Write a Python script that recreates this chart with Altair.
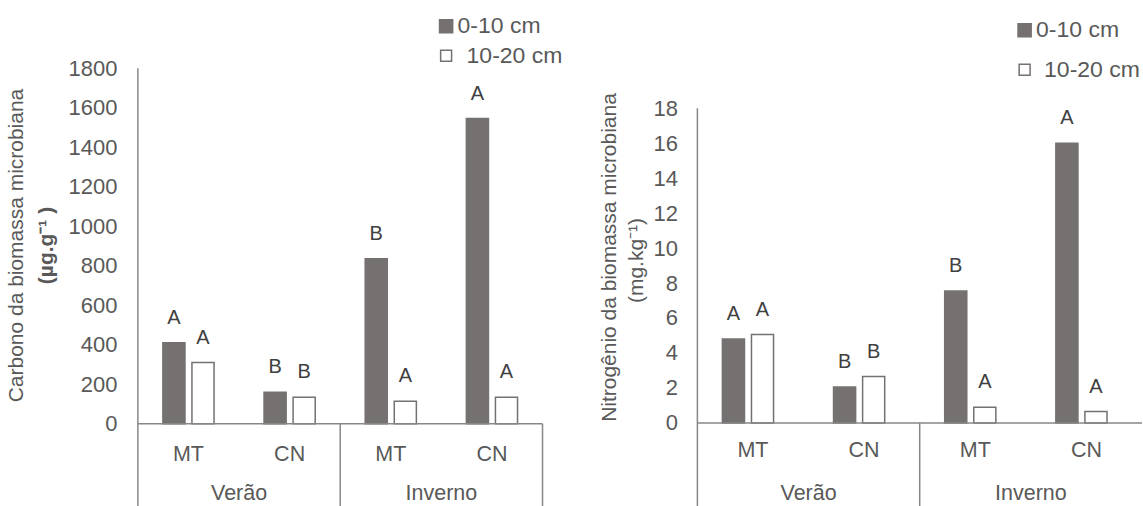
import altair as alt
import pandas as pd

# ---------------- data ----------------
seasons = ["Verão", "Verão", "Inverno", "Inverno"]
systems = ["MT", "CN", "MT", "CN"]
depths = ["0-10 cm", "10-20 cm"]

carbon_0_10 = [410, 160, 835, 1545]
carbon_10_20 = [310, 135, 115, 135]
carbon_letters_0_10 = ["A", "B", "B", "A"]
carbon_letters_10_20 = ["A", "B", "A", "A"]
carbon_ticks = [0, 200, 400, 600, 800, 1000, 1200, 1400, 1600, 1800]

nitrogen_0_10 = [4.8, 2.05, 7.55, 16.0]
nitrogen_10_20 = [5.05, 2.65, 0.9, 0.65]
nitrogen_letters_0_10 = ["A", "B", "B", "A"]
nitrogen_letters_10_20 = ["A", "B", "A", "A"]
nitrogen_ticks = [0, 2, 4, 6, 8, 10, 12, 14, 16, 18]

carbon_title = ["Carbono da biomassa microbiana", "(µg.g⁻¹ )"]
nitrogen_title = ["Nitrogênio da biomassa microbiana", "(mg.kg⁻¹)"]

FONT = "Liberation Sans"
TXT = "#595959"
LINE = "#878787"
DARK = "#767171"

TICK_FS = 22
CAT_FS = 21.5
LEG_FS = 23
TITLE_FS = 21
LETTER_FS = 20

group_keys = [f"{s}|{c}" for s, c in zip(seasons, systems)]


def build_panel(v0, v1, l0, l1, ticks, domain, width, height, pad_in, pad_out,
                legend_pos, title_lines, title_bold, title_pos, cat_y, season_y,
                label_pad, right_edge, anchor):
    rows = []
    for i, g in enumerate(group_keys):
        rows.append({"grp": g, "season": seasons[i], "system": systems[i],
                     "depth": depths[0], "value": v0[i], "letter": l0[i]})
        rows.append({"grp": g, "season": seasons[i], "system": systems[i],
                     "depth": depths[1], "value": v1[i], "letter": l1[i]})
    df = pd.DataFrame(rows)
    cats = pd.DataFrame({"grp": group_keys, "system": systems})
    season_names = []
    season_anchor = []
    for s in seasons:
        if s not in season_names:
            season_names.append(s)
            idx = [k for k, t in enumerate(seasons) if t == s]
            season_anchor.append(group_keys[idx[len(idx) // 2]])
    seas = pd.DataFrame({"grp": season_anchor, "season": season_names})
    one = pd.DataFrame({"k": [0]})

    xscale = alt.Scale(domain=group_keys, paddingInner=0, paddingOuter=0)
    yscale = alt.Scale(domain=domain, nice=False, zero=False)
    X = alt.X("grp:N", scale=xscale, axis=None)
    XO = alt.XOffset("depth:N", sort=depths,
                     scale=alt.Scale(domain=depths, paddingInner=pad_in, paddingOuter=pad_out))

    bars = alt.Chart(df).mark_bar(stroke=DARK, strokeWidth=1.5).encode(
        x=X, xOffset=XO,
        y=alt.Y("value:Q", scale=yscale,
                axis=alt.Axis(values=ticks, format="d", domain=False, ticks=False, grid=False,
                              labelPadding=label_pad, labelFontSize=TICK_FS, labelColor=TXT,
                              labelFont=FONT, labelOverlap=False, title=None)),
        y2=alt.datum(0),
        fill=alt.Fill("depth:N", scale=alt.Scale(domain=depths, range=[DARK, "#ffffff"]), legend=None),
    )
    letters = alt.Chart(df).mark_text(dy=-25, baseline="middle", fontSize=LETTER_FS, font=FONT,
                                      color="#404040").encode(
        x=X, xOffset=XO, y=alt.Y("value:Q", scale=yscale), text="letter:N")

    base_line = alt.Chart(one).mark_rule(color=LINE, strokeWidth=1.5).encode(
        x=alt.value(0), x2=alt.value(width), y=alt.datum(0))
    axis_line = alt.Chart(one).mark_rule(color=LINE, strokeWidth=1.5).encode(
        x=alt.value(0), y=alt.datum(ticks[-1]), y2=alt.value(height))
    first_of_second = pd.DataFrame({"grp": [group_keys[seasons.index(season_names[1])]]})
    sep = alt.Chart(first_of_second).mark_rule(color=LINE, strokeWidth=1.5).encode(
        x=alt.X("grp:N", scale=xscale, axis=None, bandPosition=0),
        y=alt.datum(0), y2=alt.value(height))

    cat_text = alt.Chart(cats).mark_text(fontSize=CAT_FS, font=FONT, color=TXT, baseline="middle").encode(
        x=X, y=alt.value(cat_y), text="system:N")
    seas_text = alt.Chart(seas).mark_text(fontSize=CAT_FS, font=FONT, color=TXT, baseline="middle").encode(
        x=alt.X("grp:N", scale=xscale, axis=None, bandPosition=0),
        y=alt.value(season_y), text="season:N")

    layers = [bars, letters, base_line, axis_line, sep, cat_text, seas_text]

    if right_edge:
        layers.append(alt.Chart(one).mark_rule(color=LINE, strokeWidth=1.5).encode(
            x=alt.value(width), y=alt.datum(0), y2=alt.value(height)))

    # legend
    (sqx, r1y, r2y, t1x, t2x) = legend_pos
    leg1 = pd.DataFrame({"depth": [depths[0]]})
    leg2 = pd.DataFrame({"depth": [depths[1]]})
    layers.append(alt.Chart(leg1).mark_point(shape="square", size=160, filled=True,
                                             fill=DARK, stroke=DARK, opacity=1).encode(
        x=alt.value(sqx), y=alt.value(r1y)))
    layers.append(alt.Chart(leg2).mark_point(shape="square", size=120, filled=False,
                                             stroke=DARK, strokeWidth=1.5, fill="#ffffff",
                                             opacity=1).encode(
        x=alt.value(sqx), y=alt.value(r2y)))
    layers.append(alt.Chart(leg1).mark_text(align="left", baseline="middle", fontSize=LEG_FS,
                                            font=FONT, color=TXT).encode(
        x=alt.value(t1x), y=alt.value(r1y), text="depth:N"))
    layers.append(alt.Chart(leg2).mark_text(align="left", baseline="middle", fontSize=LEG_FS,
                                            font=FONT, color=TXT).encode(
        x=alt.value(t2x), y=alt.value(r2y), text="depth:N"))

    # title (two lines)
    (x1, x2, ty1, ty2) = title_pos
    t1 = pd.DataFrame({"t": [title_lines[0]]})
    t2 = pd.DataFrame({"t": [title_lines[1]]})
    layers.append(alt.Chart(t1).mark_text(angle=270, align="center", baseline="middle",
                                          fontSize=TITLE_FS, font=FONT, color=TXT).encode(
        x=alt.value(x1), y=alt.value(ty1), text="t:N"))
    layers.append(alt.Chart(t2).mark_text(angle=270, align="center", baseline="middle",
                                          fontSize=TITLE_FS, font=FONT, color=TXT,
                                          fontWeight="bold" if title_bold else "normal").encode(
        x=alt.value(x2), y=alt.value(ty2), text="t:N"))

    if anchor is not None:
        layers.append(alt.Chart(one).mark_rule(strokeOpacity=0, strokeWidth=0.1).encode(
            x=alt.value(anchor[0]), x2=alt.value(anchor[0] + 1), y=alt.value(anchor[1])))

    return alt.layer(*layers).properties(width=width, height=height)


H = 438.5
left = build_panel(carbon_0_10, carbon_10_20, carbon_letters_0_10, carbon_letters_10_20,
                   carbon_ticks, [-417, 1800], 405, H, 0.24, 0.86,
                   (308.5, -42, -12.5, 320, 329),
                   carbon_title, True, (-120.5, -91, 177.5, 177.5),
                   387, 426.5, 21, True, (-138, -67.5))
right = build_panel(nitrogen_0_10, nitrogen_10_20, nitrogen_letters_0_10, nitrogen_letters_10_20,
                    nitrogen_ticks, [-4.77, 20.29], 445, H, 0.22, 0.85,
                    (327.5, -38, 1.5, 339, 347),
                    nitrogen_title, False, (-87, -60, 189.5, 192.5),
                    383.5, 426.5, 20, False, None)

chart = alt.hconcat(left, right, spacing=155, bounds="flush").properties(
    padding=0
).configure_view(stroke=None)

chart.save("out.html", embed_options={"renderer": "svg", "actions": False})
